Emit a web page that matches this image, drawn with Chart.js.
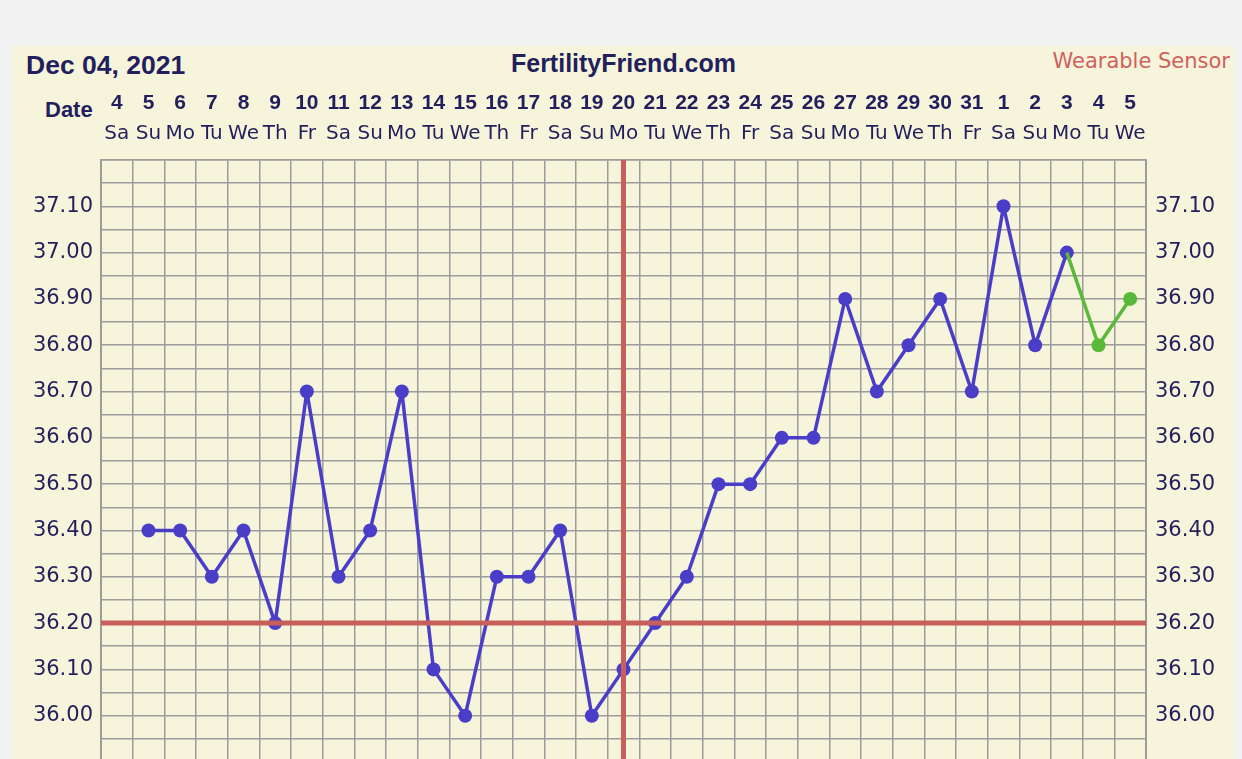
<!DOCTYPE html>
<html>
<head>
<meta charset="utf-8">
<script src="https://cdn.jsdelivr.net/npm/chart.js@4.4.0/dist/chart.umd.min.js"></script>
<style>
  html, body { margin: 0; padding: 0; background: #f1f1f1; overflow: hidden; width: 1242px; height: 759px; }
  .panel { position: absolute; left: 12px; top: 46px; width: 1223px; height: 760px; background: #f7f4dc; }
  .hdr { position: absolute; line-height: 1; white-space: nowrap; color: #231f5c; }
  #when { left: 26px; top: 50px; font: bold 26.5px "Liberation Sans", sans-serif; }
  #brand { left: 0; width: 1247px; text-align: center; top: 49px; font: bold 25px "Liberation Sans", sans-serif; }
  #sensor { right: 12px; top: 49px; font: 21px "DejaVu Sans", sans-serif; color: #cf615d; }
  #datelbl { left: 45px; top: 97px; font: bold 22px "Liberation Sans", sans-serif; }
  #wrap { position: absolute; left: 0; top: 0; }
</style>
</head>
<body>
<div class="panel"></div>
<div class="hdr" id="when">Dec 04, 2021</div>
<div class="hdr" id="brand">FertilityFriend.com</div>
<div class="hdr" id="sensor">Wearable Sensor</div>
<div class="hdr" id="datelbl">Date</div>
<div id="wrap"><canvas id="bbt" width="1242" height="790"></canvas></div>
<script>
// cycle days, Dec 4 2021 .. Jan 5 2022
const dayNumbers = ['4', '5', '6', '7', '8', '9', '10', '11', '12', '13', '14', '15', '16', '17',
    '18', '19', '20', '21', '22', '23', '24', '25', '26', '27', '28', '29', '30', '31',
    '1', '2', '3', '4', '5'];
const weekdays = ['Sa', 'Su', 'Mo', 'Tu', 'We', 'Th', 'Fr', 'Sa', 'Su', 'Mo', 'Tu', 'We', 'Th', 'Fr',
    'Sa', 'Su', 'Mo', 'Tu', 'We', 'Th', 'Fr', 'Sa', 'Su', 'Mo', 'Tu', 'We', 'Th', 'Fr',
    'Sa', 'Su', 'Mo', 'Tu', 'We'];

// temperatures (blue) and wearable sensor readings (green)
const tempValues = [null, 36.40, 36.40, 36.30, 36.40, 36.20, 36.70, 36.30, 36.40, 36.70, 36.10,
    36.00, 36.30, 36.30, 36.40, 36.00, 36.10, 36.20, 36.30, 36.50, 36.50, 36.60, 36.60,
    36.90, 36.70, 36.80, 36.90, 36.70, 37.10, 36.80, 37.00, null, null];
const sensorValues = [null, null, null, null, null, null, null, null, null, null, null,
    null, null, null, null, null, null, null, null, null, null, null, null,
    null, null, null, null, null, null, null, 37.00, 36.80, 36.90];

const coverTemp = 36.20;
const ovulationIndex = 16; // Dec 20
const yMin = 35.90;
const yMax = 37.20;

const navy = '#231f5c';
const gridGray = '#9c9c9c';

Chart.defaults.font.family = 'DejaVu Sans';
Chart.defaults.color = navy;

// coverline + ovulation line go over everything
const redLines = {
    id: 'redLines',
    afterDatasetsDraw(chart) {
        const {ctx, chartArea, scales} = chart;
        const y = scales.y.getPixelForValue(coverTemp);
        const x = scales.x.getPixelForValue(ovulationIndex);
        ctx.save();
        ctx.strokeStyle = '#c95f5b';
        ctx.lineWidth = 5;
        ctx.beginPath();
        ctx.moveTo(chartArea.left, y);
        ctx.lineTo(chartArea.right, y);
        ctx.moveTo(x, chartArea.top);
        ctx.lineTo(x, chartArea.bottom);
        ctx.stroke();
        ctx.restore();
    }
};

function tempLabel(value) {
    const v = Math.round(value * 100);
    if (v % 10 !== 0 || v >= Math.round(yMax * 100) || v <= Math.round(yMin * 100)) return '';
    return (v / 100).toFixed(2);
}

const yTicks = {
    stepSize: 0.05,
    autoSkip: false,
    font: {size: 21},
    color: navy,
    callback: tempLabel
};

const data = {
    labels: dayNumbers,
    datasets: [{
        label: 'Wearable Sensor',
        data: sensorValues,
        borderColor: '#5bb93a',
        backgroundColor: '#5bb93a',
        borderWidth: 3.5,
        borderJoinStyle: 'round',
        pointRadius: ctx => (tempValues[ctx.dataIndex] != null ? 0 : 7),
        pointBorderWidth: 0,
        tension: 0
    }, {
        label: 'Temperature',
        data: tempValues,
        borderColor: '#4a3ec8',
        backgroundColor: '#4a3ec8',
        borderWidth: 3.5,
        borderJoinStyle: 'round',
        pointRadius: 7,
        pointBorderWidth: 0,
        tension: 0
    }]
};

const config = {
    type: 'line',
    data: data,
    options: {
        responsive: false,
        animation: false,
        devicePixelRatio: 1,
        layout: {padding: {top: 0, left: 0, right: 0, bottom: 28}},
        plugins: {legend: {display: false}, tooltip: {enabled: false}},
        scales: {
            x: {
                position: 'top',
                offset: true,
                labels: weekdays,
                grid: {offset: true, color: gridGray, lineWidth: 1.5, drawTicks: false},
                border: {color: gridGray, width: 1.5},
                ticks: {autoSkip: false, maxRotation: 0, padding: 14, font: {size: 20}, color: navy},
                afterFit: s => { s.height = 40; }
            },
            x2: {
                position: 'top',
                weight: 1,
                offset: true,
                labels: dayNumbers,
                grid: {display: false, drawTicks: false},
                border: {display: false},
                ticks: {autoSkip: false, maxRotation: 0, padding: 4,
                    font: {family: 'Liberation Sans', size: 21, weight: 'bold'}, color: navy},
                afterFit: s => { s.height = 120; }
            },
            y: {
                position: 'left',
                min: yMin,
                max: yMax,
                grid: {color: gridGray, lineWidth: 1.5, drawTicks: false},
                border: {color: gridGray, width: 2},
                ticks: Object.assign({padding: 8}, yTicks),
                afterFit: s => { s.width = 101; }
            },
            y2: {
                position: 'right',
                min: yMin,
                max: yMax,
                grid: {display: false, drawTicks: false},
                border: {color: gridGray, width: 2},
                ticks: Object.assign({padding: 9}, yTicks),
                afterFit: s => { s.width = 96; }
            }
        }
    },
    plugins: [redLines]
};

const bbtChart = new Chart(document.getElementById('bbt'), config);
</script>
</body>
</html>
